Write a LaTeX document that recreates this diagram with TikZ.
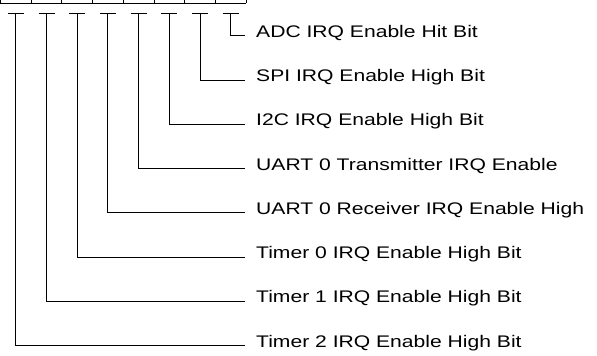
\documentclass[tikz,border=0pt]{standalone}
\usepackage{fontspec}
\newfontfamily\labfont[FakeStretch=1.256]{Liberation Sans}
\begin{document}
\begin{tikzpicture}[x=1pt,y=-1pt,
  reg/.style={line width=0.9pt},
  conn/.style={line width=0.9pt},
  lab/.style={anchor=base west,inner sep=0pt,font=\labfont\fontsize{16.8}{18}\selectfont}]
\useasboundingbox (0,0) rectangle (597,356);
\clip (0,0) rectangle (597,356);
% register cells (top cut off)
\draw[reg] (0,3) -- (246,3);
\foreach \k in {0,...,8} {
  \draw[reg] ({0.5+30.7*\k},-10) -- ({0.5+30.7*\k},3);
}
% labels
\foreach \r/\t in {0/ADC IRQ Enable Hit Bit,
                   1/SPI IRQ Enable High Bit,
                   2/I2C IRQ Enable High Bit,
                   3/UART 0 Transmitter IRQ Enable,
                   4/UART 0 Receiver IRQ Enable High,
                   5/Timer 0 IRQ Enable High Bit,
                   6/Timer 1 IRQ Enable High Bit,
                   7/Timer 2 IRQ Enable High Bit} {
  \node[lab] (L\r) at (256,{35.7+44.3*\r+1.4}) {\t};
  \coordinate (E\r) at (245,{35.7+44.3*\r});
}
% bit taps
\foreach \i in {0,...,7} {
  \pgfmathtruncatemacro{\r}{7-\i}
  \coordinate (B\i) at ({15.8+30.7*\i},13.3);
  \draw[conn] ([xshift=-8pt]B\i) -- ([xshift=8pt]B\i);
  \draw[conn] (B\i) |- (E\r);
}
\end{tikzpicture}
\end{document}
